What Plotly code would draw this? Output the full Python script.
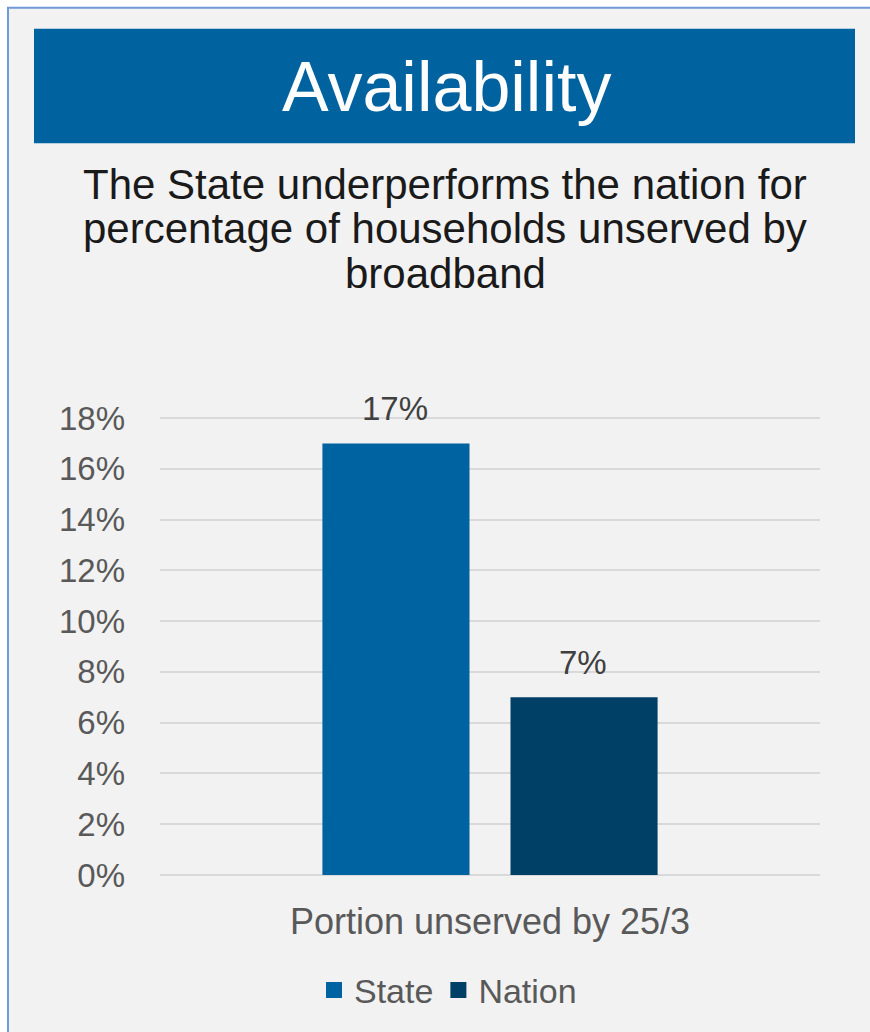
import plotly.graph_objects as go

# Chart data
categories = ["Portion unserved by 25/3"]
series_names = ["State", "Nation"]
state_values = [17]
nation_values = [7]
series_colors = ["#0063a1", "#003f66"]
tick_values = [0, 2, 4, 6, 8, 10, 12, 14, 16, 18]
tick_labels = [f"{v}%" for v in tick_values]

title_text = "Availability"
subtitle_lines = [
    "The State underperforms the nation for",
    "percentage of households unserved by",
    "broadband",
]

W, H = 870, 1032
L, R, T, B = 160, 50, 417, 155
PW, PH = W - L - R, H - T - B


def px(x):
    return (x - L) / PW


def py(y):
    return (H - B - y) / PH


FONT = "Liberation Sans, Arial, sans-serif"
GREY = "#595959"

fig = go.Figure()
for name, vals, col in zip(series_names, [state_values, nation_values], series_colors):
    fig.add_trace(go.Bar(
        x=categories, y=vals, name=name, showlegend=False,
        marker=dict(color=col, line=dict(width=0)),
        hoverinfo="skip",
    ))
# legend keys as larger square swatches
for name, col in zip(series_names, series_colors):
    fig.add_trace(go.Scatter(
        x=[None], y=[None], name=name, mode="markers",
        marker=dict(symbol="square", size=18, color=col),
    ))

annotations = []
# value labels above each bar
for vals, shift in zip([state_values, nation_values], [-95, 93]):
    for c, v in zip(categories, vals):
        annotations.append(dict(
            x=c, y=v, xref="x", yref="y", xshift=shift, yshift=14,
            text=f"{v}%", showarrow=False, yanchor="bottom",
            font=dict(family=FONT, size=33, color="#404040"),
        ))

# banner title
annotations.append(dict(
    x=px(446), y=py(86), xref="paper", yref="paper",
    text=title_text, showarrow=False, xanchor="center", yanchor="middle",
    font=dict(family=FONT, size=70, color="white"),
))

# subtitle, one line per annotation for tight line spacing
for i, line in enumerate(subtitle_lines):
    annotations.append(dict(
        x=px(445), y=py(183 + 45 * i), xref="paper", yref="paper",
        text=line, showarrow=False, xanchor="center", yanchor="middle",
        font=dict(family=FONT, size=42, color="#1a1a1a"),
    ))

shapes = [
    # panel background with white margin at top/left
    dict(type="rect", xref="paper", yref="paper", layer="below",
         x0=px(8), x1=px(W + 5), y0=py(H + 5), y1=py(6),
         fillcolor="#f2f2f2", line=dict(width=0)),
    # panel border on left and top
    dict(type="path", xref="paper", yref="paper", layer="above",
         path=f"M {px(8)} {py(H + 5)} L {px(8)} {py(6)} L {px(W + 5)} {py(6)}",
         line=dict(color="#6f9bd8", width=2)),
    # title banner
    dict(type="rect", xref="paper", yref="paper", layer="below",
         x0=px(34), x1=px(855), y0=py(142), y1=py(27),
         fillcolor="#0063a0", line=dict(width=0)),
]

fig.update_layout(
    width=W, height=H,
    margin=dict(l=L, r=R, t=T, b=B, pad=0),
    paper_bgcolor="white",
    plot_bgcolor="rgba(0,0,0,0)",
    barmode="group",
    bargap=0.43,
    bargroupgap=0.218,
    font=dict(family=FONT, color=GREY),
    showlegend=True,
    legend=dict(
        orientation="h", x=px(448), y=py(993), xanchor="center", yanchor="middle",
        font=dict(family=FONT, size=34, color=GREY),
        bgcolor="rgba(0,0,0,0)", itemsizing="trace", itemwidth=30,
        tracegroupgap=0,
    ),
    annotations=annotations,
    shapes=shapes,
)

fig.update_yaxes(
    range=[0, 18.04], tickvals=tick_values, ticktext=tick_labels,
    showgrid=True, gridcolor="#d9d9d9", gridwidth=2,
    zeroline=True, zerolinecolor="#d9d9d9", zerolinewidth=2,
    showline=False, ticks="", ticklabelstandoff=34,
    tickfont=dict(family=FONT, size=33, color=GREY),
)
fig.update_xaxes(
    showgrid=False, showline=False, ticks="", ticklabelstandoff=22,
    tickfont=dict(family=FONT, size=36, color=GREY),
)

fig.write_html("out.html")
